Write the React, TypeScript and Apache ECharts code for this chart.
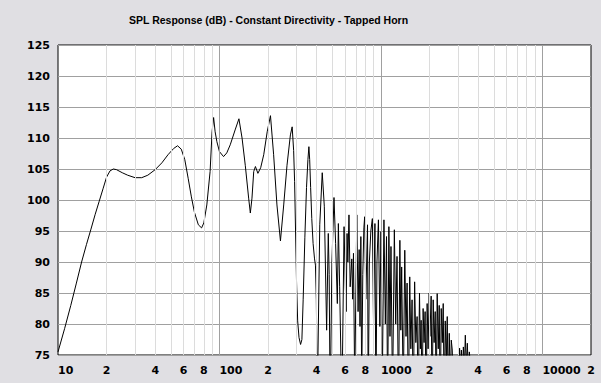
import React, { useEffect, useRef } from 'react';
import * as echarts from 'echarts';

const chartTitle = 'SPL Response (dB) - Constant Directivity - Tapped Horn';

// Frequency (Hz) of each sample of the response curve
const freq = [
  10, 11, 12, 13, 14, 15, 16, 17, 18, 19,
  20, 21, 22, 23, 25, 27, 30, 33, 36, 40,
  44, 48, 52, 55, 58, 61, 64, 67, 70, 74,
  77.5, 80, 83.5, 87.5, 90, 92, 94, 96.4, 100, 106,
  111, 116.6, 125, 132, 138, 144.5, 151.6, 155.3, 159, 163,
  167, 173, 180, 188, 197.5, 207, 216.5, 227, 238.6, 250,
  262, 275, 282, 288, 292, 296, 300, 305, 311, 318,
  324, 330, 338, 346, 353, 358, 362, 367, 373, 380,
  388, 393, 398, 404, 418, 433, 446, 461, 472, 478,
  485, 497, 512, 524, 537, 545, 555, 573, 591, 602,
  609, 617, 624, 634, 645, 660, 668, 676, 688, 709,
  722, 733, 742, 751, 760, 772, 784, 793, 806, 826,
  834, 848, 866, 885, 900, 918, 931, 945, 965, 985,
  1000, 1020, 1044, 1065, 1083, 1100, 1120, 1138, 1154, 1180,
  1211, 1235, 1258, 1285, 1310, 1328, 1344, 1375, 1405, 1430,
  1452, 1480, 1508, 1532, 1559, 1585, 1617, 1645, 1675, 1700,
  1733, 1755, 1774, 1800, 1825, 1850, 1878, 1905, 1933, 1960,
  1990, 2010, 2047, 2075, 2107, 2135, 2168, 2200, 2231, 2265,
  2296, 2330, 2363, 2400, 2431, 2465, 2502, 2540, 2575, 2610,
  2650, 2690, 2727, 2766, 2800, 2900, 3000, 3070, 3110, 3150,
  3200, 3240, 3290, 3332, 3380, 3429, 3480, 3528, 3600, 3630,
  3800,
];

// SPL (dB) at each frequency above
const spl = [
  75.5, 79.3, 83.0, 86.6, 90.0, 92.8, 95.3, 97.7, 99.8, 101.8,
  103.7, 104.7, 105.0, 104.9, 104.4, 104.0, 103.6, 103.6, 104.0, 104.9,
  106.0, 107.3, 108.3, 108.75, 108.2, 106.5, 103.5, 100.5, 98.0, 96.0,
  95.5, 96.3, 99.2, 104.6, 111.0, 113.3, 111.0, 109.4, 107.8, 107.0,
  107.6, 108.9, 111.3, 113.1, 110.0, 105.6, 100.3, 97.9, 100.3, 104.6,
  105.4, 104.3, 105.2, 107.3, 111.0, 113.6, 107.3, 99.2, 93.4, 99.2,
  105.6, 110.5, 111.8, 108.0, 103.0, 95.0, 87.0, 80.5, 77.8, 76.7,
  77.5, 84.0, 94.0, 102.0, 106.5, 108.6, 106.5, 102.0, 97.0, 93.0,
  90.5, 89.5, 84.0, 68, 96, 104.4, 99, 79, 94.6, 88,
  66, 90, 100.4, 93, 83.3, 96.2, 86, 66, 95.7, 86,
  82, 94.6, 90, 97.6, 86, 90.5, 84, 91.4, 70, 97.6,
  82, 92, 79.6, 94.1, 70, 88, 95.5, 97.3, 84, 96.0,
  66, 90, 95.0, 97.0, 80, 96.2, 66, 90, 96.8, 79.6,
  94.9, 70, 96.8, 80, 94.1, 66, 95.7, 78, 92.5, 68,
  95.2, 80, 90.9, 66, 93.5, 79, 89.2, 68, 91.9, 78,
  86.6, 66, 87.6, 76, 83.9, 66, 86.8, 77, 81.2, 66,
  85.0, 76, 80.6, 66, 82.5, 77, 82.0, 66, 83.3, 76,
  85.0, 78, 84.5, 66, 83.9, 77, 82.0, 68, 84.9, 76,
  83.0, 66, 82.5, 77, 83.3, 66, 80.5, 74, 81.2, 68,
  78.5, 70, 77.4, 75.8, 70, 68, 70, 76.1, 72, 75.8,
  72, 76.3, 73, 78.2, 73, 76.9, 72, 75.5, 73, 70,
  60,
];

const yMin = 75;
const yMax = 125;
const yStep = 5;
const xMin = 10;
const xMax = 20000;

const minorLines = [
  20, 30, 40, 50, 60, 70, 80, 90,
  200, 300, 400, 500, 600, 700, 800, 900,
  2000, 3000, 4000, 5000, 6000, 7000, 8000, 9000,
];
const decadeLines = [100, 1000, 10000];
const xTickValues = [10, 20, 40, 60, 80, 100, 200, 400, 600, 800, 1000, 2000, 4000, 6000, 8000, 10000, 20000];
const xTickLabels = ['10', '2', '4', '6', '8', '100', '2', '4', '6', '8', '1000', '2', '4', '6', '8', '10000', '2'];

export default function App() {
  const ref = useRef<HTMLDivElement>(null);
  useEffect(() => {
    const chart = echarts.init(ref.current!, null, { renderer: 'svg' });
    const labelFont = { fontFamily: 'DejaVu Sans', fontWeight: 'bold' as const, fontSize: 11, color: '#000' };
    const gridLineData: any[] = [
      ...minorLines.map((v) => ({ xAxis: v, lineStyle: { color: '#dcdcdc', width: 1, type: 'solid' }, label: { show: false } })),
      ...decadeLines.map((v) => ({ xAxis: v, lineStyle: { color: '#a0a0a0', width: 1, type: 'solid' }, label: { show: false } })),
    ];
    const tickLabelData: any[] = xTickValues.map((v, i) => ({
      xAxis: v,
      lineStyle: { color: 'rgba(0,0,0,0)', width: 1, type: 'solid' },
      label: {
        show: true,
        position: 'start',
        distance: 10,
        formatter: xTickLabels[i],
        align: xTickLabels[i].length > 1 ? 'left' : 'center',
        ...labelFont,
      },
    }));
    chart.setOption({
      animation: false,
      backgroundColor: '#e0dfe3',
      title: {
        text: chartTitle,
        left: 129,
        top: 14,
        padding: 0,
        textStyle: {
          fontFamily: "'Liberation Sans', Arial, sans-serif",
          fontWeight: 'bold',
          fontSize: 10.5,
          color: '#000',
        },
      },
      grid: {
        left: 58,
        right: 10,
        top: 45,
        bottom: 28,
        show: true,
        backgroundColor: '#ffffff',
        borderColor: '#000000',
        borderWidth: 1,
      },
      xAxis: {
        type: 'log',
        logBase: 10,
        min: xMin,
        max: xMax,
        axisLine: { show: false },
        axisTick: { show: false },
        axisLabel: { show: false },
        splitLine: { show: false },
      },
      yAxis: {
        type: 'value',
        min: yMin,
        max: yMax,
        interval: yStep,
        axisLine: { show: false },
        axisTick: { show: false },
        axisLabel: { ...labelFont, margin: 8 },
        splitLine: { lineStyle: { color: '#a0a0a0', width: 1 } },
      },
      series: [
        {
          type: 'line',
          z: 1,
          silent: true,
          data: [[xMin, yMin]],
          symbol: 'none',
          lineStyle: { color: 'rgba(0,0,0,0)' },
          markLine: {
            silent: true,
            symbol: ['none', 'none'],
            animation: false,
            data: [...gridLineData, ...tickLabelData],
          },
        },
        {
          type: 'line',
          z: 2,
          silent: true,
          data: freq.map((f, i) => [f, spl[i]]),
          symbol: 'none',
          showSymbol: false,
          clip: true,
          lineStyle: { color: '#000', width: 1 },
        },
      ],
    });
    return () => chart.dispose();
  }, []);
  return <div ref={ref} style={{ position: 'absolute', left: 0, top: 0, width: 601, height: 383 }} />;
}
